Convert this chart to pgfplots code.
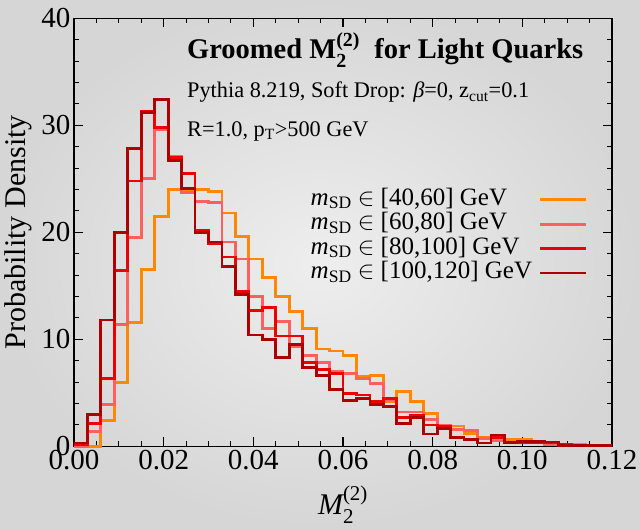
\documentclass[border=0pt]{standalone}
\usepackage{fontspec}
\setmainfont{Liberation Serif}
\usepackage{amsmath}
\usepackage{pgfplots}
\pgfplotsset{compat=1.18}
\usepackage{pgfplotstable}

\definecolor{cA}{RGB}{255,136,0}
\definecolor{cB}{RGB}{255,95,95}
\definecolor{cC}{RGB}{236,0,0}
\definecolor{cD}{RGB}{172,0,0}
\definecolor{bgin}{RGB}{238,238,238}
\definecolor{bgout}{RGB}{214,214,214}

% Normalised histograms of groomed M2(2), bin width 0.003 (left bin edges)
% o: 40-60 GeV, p: 60-80 GeV, r: 80-100 GeV, d: 100-120 GeV
\pgfplotstableread{
x      o     p     r     d
0.000  0     0     0.2   0.3
0.003  0     1.4   2.1   3.0
0.006  2.4   3.9   6.35  11.8
0.009  6.0   11.4  16.4  20.0
0.012  11.6  19.5  24.8  27.8
0.015  16.5  25.0  31.3  31.2
0.018  21.5  29.6  29.8  32.4
0.021  24.0  27.1  27.0  26.7
0.024  24.0  23.7  25.5  24.1
0.027  24.0  22.9  20.2  20.0
0.030  23.8  22.8  18.9  19.1
0.033  21.8  19.1  17.7  16.8
0.036  19.6  17.5  14.5  14.2
0.039  17.5  14.0  12.7  10.4
0.042  15.8  11.0  13.0  10.0
0.045  14.0  11.7  10.3  8.3
0.048  12.6  9.3   10.3  9.5
0.051  11.0  8.5   7.8   7.4
0.054  9.1   7.8   7.2   6.6
0.057  8.9   7.0   6.8   5.3
0.060  8.5   6.8   4.9   4.3
0.063  6.5   6.3   4.8   4.5
0.066  6.6   5.9   4.2   3.9
0.069  4.2   4.4   4.5   3.7
0.072  5.1   3.2   2.7   2.1
0.075  4.2   3.2   2.9   2.7
0.078  3.1   2.5   2.0   1.15
0.081  2.0   2.0   1.9   1.7
0.084  1.9   1.6   0.85  0.85
0.087  1.2   1.5   0.6   0.65
0.090  0.8   0.7   0.3   0.3
0.093  0.7   0.5   0.85  1.05
0.096  0.6   0.4   0.4   0.35
0.099  0.6   0.3   0.35  0.45
0.102  0.45  0.3   0.3   0.45
0.105  0.3   0.2   0.3   0.4
0.108  0.2   0.15  0.2   0.1
0.111  0.2   0.1   0.1   0.05
0.114  0.05  0.05  0.05  0.05
0.117  0.02  0.02  0.05  0.05
0.120  0.02  0.02  0.05  0.05
}\hist

\newcommand{\msd}{{\itshape m}\textsubscript{SD} $\in$ }

\begin{document}
\begin{tikzpicture}
\useasboundingbox (-74pt,-81.7pt) rectangle (566pt,446.3pt);
\shade[inner color=bgin, outer color=bgout] (-74pt,-81.7pt) rectangle (566pt,446.3pt);
\begin{axis}[
  at={(0pt,0pt)}, anchor=south west,
  scale only axis, width=538pt, height=428pt,
  xmin=0, xmax=0.12, ymin=0, ymax=40,
  clip=false,
  xtick={0,0.02,0.04,0.06,0.08,0.1,0.12},
  minor x tick num=3,
  ytick={0,10,20,30,40},
  minor y tick num=4,
  tick align=inside,
  major tick length=9pt, minor tick length=5pt,
  every tick/.style={black, line width=1.1pt},
  axis line style={line width=1.4pt},
  xticklabel style={/pgf/number format/.cd, fixed, fixed zerofill, precision=2},
  /pgf/number format/assume math mode=true,
  ticklabel style={font=\fontsize{29}{30}\selectfont},
  scaled x ticks=false,
  xlabel={$\text{\itshape M}_{\text{2}}^{\text{(2)}}$},
  xlabel style={at={(axis description cs:0.5,0)}, anchor=base, yshift=-67.7pt, font=\fontsize{30}{32}\selectfont},
  ylabel={Probability Density},
  ylabel style={at={(axis description cs:-0.104,0.5)}, anchor=center, font=\fontsize{30}{32}\selectfont},
  legend plot pos=right,
  legend cell align=left,
  legend image code/.code={\draw[#1] (0pt,0pt) -- (46pt,0pt);},
  legend style={at={(0.955,0.605)}, anchor=north east, draw=none, fill=none,
    font=\fontsize{25}{25}\selectfont, row sep=0pt, column sep=6pt, inner sep=0pt,
    nodes={inner sep=0.7pt, text height=17pt, text depth=6pt}},
]
\addplot[const plot, draw=cA, line width=2.8pt] table[x=x, y=o] {\hist};
\addlegendentry{\msd{}[40,60] GeV}
\addplot[const plot, draw=cB, line width=2.8pt] table[x=x, y=p] {\hist};
\addlegendentry{\msd{}[60,80] GeV}
\addplot[const plot, draw=cC, line width=2.8pt] table[x=x, y=r] {\hist};
\addlegendentry{\msd{}[80,100] GeV}
\addplot[const plot, draw=cD, line width=2.8pt] table[x=x, y=d] {\hist};
\addlegendentry{\msd{}[100,120] GeV}

\node[anchor=base west, font=\bfseries\fontsize{28.5}{30}\selectfont, inner sep=0pt]
  at (rel axis cs:0.210,0.905) {Groomed $\text{M}_{\text{2}}^{\text{(2)}}$\ \ for Light Quarks};
\node[anchor=base west, font=\fontsize{22.3}{24}\selectfont, inner sep=0pt]
  at (rel axis cs:0.210,0.814) {Pythia 8.219, Soft Drop: {\itshape β}=0, z\textsubscript{cut}=0.1};
\node[anchor=base west, font=\fontsize{22.3}{24}\selectfont, inner sep=0pt]
  at (rel axis cs:0.210,0.724) {R=1.0, p\textsubscript{T}>500 GeV};
\end{axis}
\end{tikzpicture}
\end{document}
